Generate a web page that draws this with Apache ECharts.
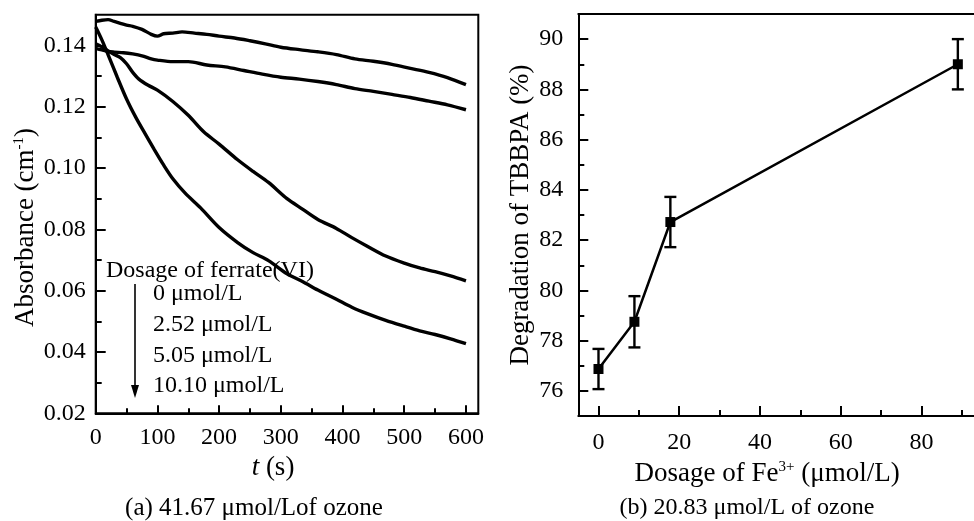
<!DOCTYPE html>
<html><head><meta charset="utf-8">
<script src="https://cdn.jsdelivr.net/npm/echarts@6/dist/echarts.min.js"></script>
<style>html,body{margin:0;padding:0;background:#fff}#c{width:974px;height:521px}</style>
</head><body><div id="c"></div>
<script>
const FONT = '"Liberation Serif","Times New Roman",serif';

// ---- Panel (a): absorbance vs time, four ferrate(VI) dosages ----
const c1T = [0,10,20,30,40,50,60,75,90,100,110,125,140,160,180,200,225,250,275,300,330,360,390,420,450,480,510,540,570,600];
const c1A = [0.1478,0.1482,0.1484,0.1478,0.1472,0.1466,0.1462,0.1452,0.1436,0.1430,0.1438,0.1440,0.1444,0.1440,0.1436,0.1430,0.1424,0.1415,0.1405,0.1394,0.1386,0.1379,0.1370,0.1356,0.1348,0.1338,0.1325,0.1312,0.1295,0.1272];
const c2T = [0,10,20,30,45,60,75,90,100,125,150,180,210,240,270,300,330,360,390,420,450,480,510,540,570,600];
const c2A = [0.1390,0.1385,0.1380,0.1378,0.1376,0.1372,0.1366,0.1356,0.1352,0.1347,0.1347,0.1336,0.1330,0.1318,0.1306,0.1296,0.1290,0.1282,0.1272,0.1259,0.1250,0.1240,0.1230,0.1218,0.1206,0.1190];
const c3T = [0,10,20,30,40,50,60,70,85,100,125,150,175,200,230,255,280,310,335,360,390,415,440,470,500,525,550,575,600];
const c3A = [0.1405,0.1395,0.1382,0.1370,0.1360,0.1340,0.1312,0.1290,0.1270,0.1254,0.1217,0.1172,0.1118,0.1078,0.1027,0.0989,0.0953,0.0900,0.0866,0.0832,0.0803,0.0773,0.0745,0.0713,0.0690,0.0674,0.0662,0.0648,0.0632];
const c4T = [0,10,20,35,50,65,80,95,110,125,145,170,200,230,255,280,310,335,360,390,415,440,470,500,525,550,575,600];
const c4A = [0.1460,0.1418,0.1370,0.1296,0.1225,0.1165,0.1112,0.1060,0.1010,0.0965,0.0918,0.0870,0.0806,0.0757,0.0724,0.0698,0.0655,0.0630,0.0602,0.0572,0.0546,0.0525,0.0503,0.0484,0.0469,0.0457,0.0443,0.0427];
const ferrateLabels = ['0 μmol/L','2.52 μmol/L','5.05 μmol/L','10.10 μmol/L'];

const timeTicks = [0,100,200,300,400,500,600];
const timeMinor = [50,150,250,350,450,550];
const absTicks = [0.02,0.04,0.06,0.08,0.10,0.12,0.14];
const absMinor = [0.03,0.05,0.07,0.09,0.11,0.13];

// ---- Panel (b): TBBPA degradation vs Fe3+ dosage ----
const feDose = [0, 8.9, 17.8, 89];
const degTBBPA = [76.87, 78.75, 82.72, 89.0];
const degErr = [0.8, 1.02, 1.0, 1.0];

const doseTicks = [0,20,40,60,80];
const doseMinor = [10,30,50,70,90];
const degTicks = [76,78,80,82,84,86,88,90];
const degMinor = [77,79,81,83,85,87,89];

const zip = (a, b) => a.map((v, i) => [v, b[i]]);
const lbl = {fontFamily: FONT, fontSize: 24, color: '#000'};
const axLine = {show: true, onZero: false, lineStyle: {color: '#000', width: 2}};

function mainAxis(extra) {
  return Object.assign({
    type: 'value', axisLine: axLine, splitLine: {show: false},
  }, extra);
}
function minorAxis(extra) {
  return Object.assign({
    type: 'value', axisLine: {show: false, onZero: false}, splitLine: {show: false},
    axisLabel: {show: false}
  }, extra);
}

const chart = echarts.init(document.getElementById('c'), null, {renderer: 'canvas'});
chart.setOption({
  animation: false,
  backgroundColor: '#fff',
  grid: [
    {left: 95.7, top: 14.7, width: 382.6, height: 398.6, show: true, borderColor: '#000', borderWidth: 2, containLabel: false},
    {left: 578.3, top: 14, right: 0, height: 402, show: false, containLabel: false}
  ],
  xAxis: [
    mainAxis({gridIndex: 0, min: 0, max: 620, position: 'bottom',
      name: '{i|t} (s)', nameLocation: 'middle', nameGap: 38,
      nameTextStyle: {fontFamily: FONT, fontSize: 27, color: '#000', padding: [0, 28, 0, 0],
        rich: {i: {fontFamily: FONT, fontSize: 27, fontStyle: 'italic', color: '#000'}}},
      axisTick: {show: true, inside: true, length: 8, customValues: timeTicks, lineStyle: {color: '#000', width: 2}},
      axisLabel: Object.assign({margin: 12, customValues: timeTicks}, lbl)}),
    minorAxis({gridIndex: 0, min: 0, max: 620, position: 'bottom',
      axisTick: {show: true, inside: true, length: 5, customValues: timeMinor, lineStyle: {color: '#000', width: 2}}}),
    mainAxis({gridIndex: 1, min: -5, max: 93, position: 'bottom',
      name: 'Dosage of Fe{sup|3+} (μmol/L)', nameLocation: 'middle', nameGap: 40,
      nameTextStyle: {fontFamily: FONT, fontSize: 27, color: '#000', padding: [0, 18, 0, 0],
        rich: {sup: {fontFamily: FONT, fontSize: 15, color: '#000', padding: [0, 0, 14, 0]}}},
      axisTick: {show: true, inside: true, length: 10, customValues: doseTicks, lineStyle: {color: '#000', width: 2}},
      axisLabel: Object.assign({margin: 15, customValues: doseTicks}, lbl)}),
    minorAxis({gridIndex: 1, min: -5, max: 93, position: 'bottom',
      axisTick: {show: true, inside: true, length: 6, customValues: doseMinor, lineStyle: {color: '#000', width: 2}}}),
    {type: 'value', gridIndex: 1, min: -5, max: 93, position: 'top',
      axisLine: axLine, axisTick: {show: false}, axisLabel: {show: false}, splitLine: {show: false}}
  ],
  yAxis: [
    mainAxis({gridIndex: 0, min: 0.02, max: 0.15, position: 'left',
      name: 'Absorbance (cm{sup|-1})', nameLocation: 'middle', nameGap: 52, nameRotate: 90,
      nameTextStyle: {fontFamily: FONT, fontSize: 27, color: '#000', padding: [0, 27, 0, 0],
        rich: {sup: {fontFamily: FONT, fontSize: 15, color: '#000', padding: [0, 0, 14, 0]}}},
      axisTick: {show: true, inside: true, length: 10, customValues: absTicks, lineStyle: {color: '#000', width: 2}},
      axisLabel: Object.assign({margin: 10, customValues: absTicks, formatter: v => v.toFixed(2)}, lbl)}),
    minorAxis({gridIndex: 0, min: 0.02, max: 0.15, position: 'left',
      axisTick: {show: true, inside: true, length: 6, customValues: absMinor, lineStyle: {color: '#000', width: 2}}}),
    mainAxis({gridIndex: 1, min: 75, max: 91, position: 'left',
      name: 'Degradation of TBBPA (%)', nameLocation: 'middle', nameGap: 44, nameRotate: 90,
      nameTextStyle: {fontFamily: FONT, fontSize: 27, color: '#000'},
      axisTick: {show: true, inside: true, length: 10, customValues: degTicks, lineStyle: {color: '#000', width: 2}},
      axisLabel: Object.assign({margin: 15, customValues: degTicks}, lbl)}),
    minorAxis({gridIndex: 1, min: 75, max: 91, position: 'left',
      axisTick: {show: true, inside: true, length: 6, customValues: degMinor, lineStyle: {color: '#000', width: 2}}})
  ],
  series: [
    ...[[c1T, c1A], [c2T, c2A], [c3T, c3A], [c4T, c4A]].map(([t, a]) => ({
      type: 'line', xAxisIndex: 0, yAxisIndex: 0, data: zip(t, a),
      showSymbol: false, smooth: 0.3, lineStyle: {color: '#000', width: 3.4}, z: 3
    })),
    {
      type: 'custom', xAxisIndex: 2, yAxisIndex: 2,
      data: feDose.map((d, i) => [d, degTBBPA[i], degErr[i]]),
      encode: {x: 0, y: 1},
      renderItem: (params, api) => {
        const x = api.value(0), y = api.value(1), e = api.value(2);
        const top = api.coord([x, y + e]), bot = api.coord([x, y - e]);
        const hw = 6, st = {stroke: '#000', lineWidth: 2.4};
        return {type: 'group', children: [
          {type: 'line', shape: {x1: top[0], y1: top[1], x2: bot[0], y2: bot[1]}, style: st},
          {type: 'line', shape: {x1: top[0] - hw, y1: top[1], x2: top[0] + hw, y2: top[1]}, style: st},
          {type: 'line', shape: {x1: bot[0] - hw, y1: bot[1], x2: bot[0] + hw, y2: bot[1]}, style: st}
        ]};
      }, z: 2
    },
    {
      type: 'line', xAxisIndex: 2, yAxisIndex: 2, data: zip(feDose, degTBBPA),
      symbol: 'rect', symbolSize: 10, itemStyle: {color: '#000'},
      lineStyle: {color: '#000', width: 2.5}, z: 3
    }
  ],
  graphic: [
    {type: 'text', x: 106, y: 271, style: {text: 'Dosage of ferrate(VI)', font: '24px ' + FONT, fill: '#000', textAlign: 'left', textVerticalAlign: 'middle'}},
    ...ferrateLabels.map((s, i) => ({type: 'text', x: 153, y: 294 + i * 30.7,
      style: {text: s, font: '24px ' + FONT, fill: '#000', textAlign: 'left', textVerticalAlign: 'middle'}})),
    {type: 'line', shape: {x1: 135, y1: 284, x2: 135, y2: 388}, style: {stroke: '#000', lineWidth: 1.6}},
    {type: 'polygon', shape: {points: [[131, 385], [139, 385], [135, 398]]}, style: {fill: '#000'}},
    {type: 'text', x: 254, y: 508, style: {text: '(a) 41.67 μmol/Lof ozone', font: '25px ' + FONT, fill: '#000', textAlign: 'center', textVerticalAlign: 'middle'}},
    {type: 'text', x: 747, y: 508, style: {text: '(b) 20.83 μmol/L of ozone', font: '24px ' + FONT, fill: '#000', textAlign: 'center', textVerticalAlign: 'middle'}}
  ]
});
</script></body></html>
